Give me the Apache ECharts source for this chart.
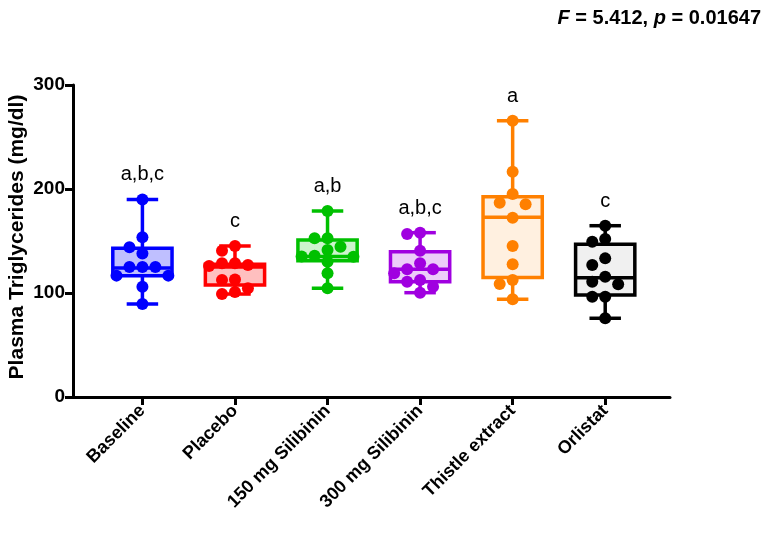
<!DOCTYPE html>
<html>
<head>
<meta charset="utf-8">
<script src="https://cdn.jsdelivr.net/npm/echarts@6/dist/echarts.min.js"></script>
<style>html,body{margin:0;padding:0;background:#fff}#c{width:772px;height:535px}</style>
</head>
<body>
<div id="c"></div>
<script>
// ---- data ----
const categories = ['Baseline', 'Placebo', '150 mg Silibinin', '300 mg Silibinin', 'Thistle extract', 'Orlistat'];
const baseline  = [190, 153.5, 144, 138, 125, 125, 125, 116.7, 116.7, 106, 89.4];
const placebo   = [145.2, 140.7, 128.5, 128.5, 127, 126, 113, 112.5, 104.5, 101, 99];
const sil150    = [178.8, 152.6, 152.6, 144.5, 141.3, 135.9, 135, 134.9, 130, 119, 104.5];
const sil300    = [158, 156.7, 140.7, 128.5, 122.8, 122.8, 119, 112.5, 110.9, 106, 100.3];
const thistle   = [265.7, 216.6, 195.2, 186.8, 185.3, 172.4, 145.2, 127.6, 112.5, 108.7, 94];
const orlistat  = [164.7, 151.9, 149.3, 133.3, 126.9, 115.7, 110.9, 108.4, 96.4, 96.4, 75.7];
// box summaries: [min, Q1, median, Q3, max]
const boxBaseline = [89.4, 116.5, 124, 143, 190];
const boxPlacebo  = [99, 107.7, 125, 127.6, 145.2];
const boxSil150   = [104.5, 131, 135, 151, 178.8];
const boxSil300   = [100.3, 110.9, 122.8, 139.7, 158];
const boxThistle  = [94, 115, 172.8, 192.6, 265.7];
const boxOrlistat = [75.7, 98, 114.7, 146.8, 164.7];
const letters = ['a,b,c', 'c', 'a,b', 'a,b,c', 'a', 'c'];
const yTicks = [0, 100, 200, 300];
const yTitle = 'Plasma Triglycerides (mg/dl)';

const groups = [baseline, placebo, sil150, sil300, thistle, orlistat];
const boxes = [boxBaseline, boxPlacebo, boxSil150, boxSil300, boxThistle, boxOrlistat];
const colors = ['#0000FF', '#FF0000', '#00C000', '#A000E0', '#FF8000', '#000000'];
const fills = ['rgba(0,0,255,0.25)', 'rgba(255,0,0,0.25)', 'rgba(0,200,0,0.2)', 'rgba(160,0,224,0.2)', 'rgba(255,128,0,0.12)', 'rgba(0,0,0,0.06)'];

// simple deterministic beeswarm spread (slot units)
function swarm(vals) {
  const placed = [];
  const order = [0, -1, 1, -2, 2, -3, 3];
  return vals.map(v => {
    for (const s of order) {
      if (!placed.some(p => p.s === s && Math.abs(p.v - v) < 11)) {
        placed.push({s, v});
        return s;
      }
    }
    return 0;
  });
}

const SLOT = 0.14;
const FONT = 'Liberation Sans';
const series = [];
series.push({
  type: 'custom',
  z: 2,
  data: boxes.map((b, i) => [i].concat(b)),
  renderItem: function (params, api) {
    const i = api.value(0);
    const half = api.size([0.64, 0])[0] / 2;
    const capHalf = api.size([0.34, 0])[0] / 2;
    const pMin = api.coord([i, api.value(1)]);
    const pQ1 = api.coord([i, api.value(2)]);
    const pMed = api.coord([i, api.value(3)]);
    const pQ3 = api.coord([i, api.value(4)]);
    const pMax = api.coord([i, api.value(5)]);
    const x = pMin[0];
    const col = colors[i];
    const ls = {stroke: col, lineWidth: 3.5, fill: null};
    return {
      type: 'group',
      children: [
        {type: 'rect', shape: {x: x - half, y: pQ3[1], width: half * 2, height: pQ1[1] - pQ3[1]},
          style: {fill: fills[i], stroke: col, lineWidth: 3.5}},
        {type: 'line', shape: {x1: x - half, y1: pMed[1], x2: x + half, y2: pMed[1]}, style: ls},
        {type: 'line', shape: {x1: x, y1: pQ3[1], x2: x, y2: pMax[1]}, style: ls},
        {type: 'line', shape: {x1: x, y1: pQ1[1], x2: x, y2: pMin[1]}, style: ls},
        {type: 'line', shape: {x1: x - capHalf, y1: pMax[1], x2: x + capHalf, y2: pMax[1]}, style: ls},
        {type: 'line', shape: {x1: x - capHalf, y1: pMin[1], x2: x + capHalf, y2: pMin[1]}, style: ls}
      ]
    };
  }
});
groups.forEach((vals, i) => {
  const slots = swarm(vals);
  series.push({
    type: 'scatter',
    z: 3,
    symbol: 'circle',
    symbolSize: 12,
    itemStyle: {color: colors[i], opacity: 1},
    data: vals.map((v, k) => [i + slots[k] * SLOT, v])
  });
});
series.push({
  type: 'scatter',
  z: 4,
  symbol: 'circle',
  symbolSize: 1,
  silent: true,
  itemStyle: {color: 'rgba(0,0,0,0)'},
  label: {
    show: true, position: 'top', distance: 14,
    formatter: p => letters[p.dataIndex],
    fontFamily: FONT, fontSize: 20, color: '#000', opacity: 1
  },
  data: boxes.map((b, i) => [i, b[4]])
});

const chart = echarts.init(document.getElementById('c'), null, {renderer: 'canvas'});
chart.setOption({
  animation: false,
  backgroundColor: '#fff',
  title: {
    right: 6, top: 3,
    text: '{i|F}{b| = 5.412, }{i|p}{b| = 0.01647}',
    textStyle: {
      rich: {
        i: {fontFamily: FONT, fontSize: 20, fontWeight: 'bold', fontStyle: 'italic', color: '#000'},
        b: {fontFamily: FONT, fontSize: 20, fontWeight: 'bold', color: '#000'}
      }
    }
  },
  graphic: [{
    type: 'text',
    x: 17, y: 237,
    rotation: Math.PI / 2,
    style: {
      text: yTitle, fill: '#000',
      font: 'bold 21px "Liberation Sans"',
      textAlign: 'center', textVerticalAlign: 'middle'
    }
  }],
  grid: {left: 73, right: 102, top: 85, bottom: 138, containLabel: false, outerBoundsMode: 'none'},
  xAxis: {
    type: 'value', min: -0.75, max: 5.7,
    splitLine: {show: false},
    axisLine: {show: true, onZero: false, lineStyle: {color: '#000', width: 3}},
    axisTick: {show: true, customValues: [0, 1, 2, 3, 4, 5], length: 8, lineStyle: {color: '#000', width: 3}},
    axisLabel: {
      customValues: [0, 1, 2, 3, 4, 5], rotate: 45, margin: 11,
      formatter: v => categories[Math.round(v)],
      fontFamily: FONT, fontSize: 18, fontWeight: 'bold', color: '#000'
    }
  },
  yAxis: {
    type: 'value', min: 0, max: 300, interval: 100,
    splitLine: {show: false},
    axisLine: {show: true, onZero: false, lineStyle: {color: '#000', width: 3}},
    axisTick: {show: true, length: 8, lineStyle: {color: '#000', width: 3}},
    axisLabel: {
      customValues: yTicks, margin: 8,
      fontFamily: FONT, fontSize: 19, fontWeight: 'bold', color: '#000'
    }
  },
  series: series
});
</script>
</body>
</html>
